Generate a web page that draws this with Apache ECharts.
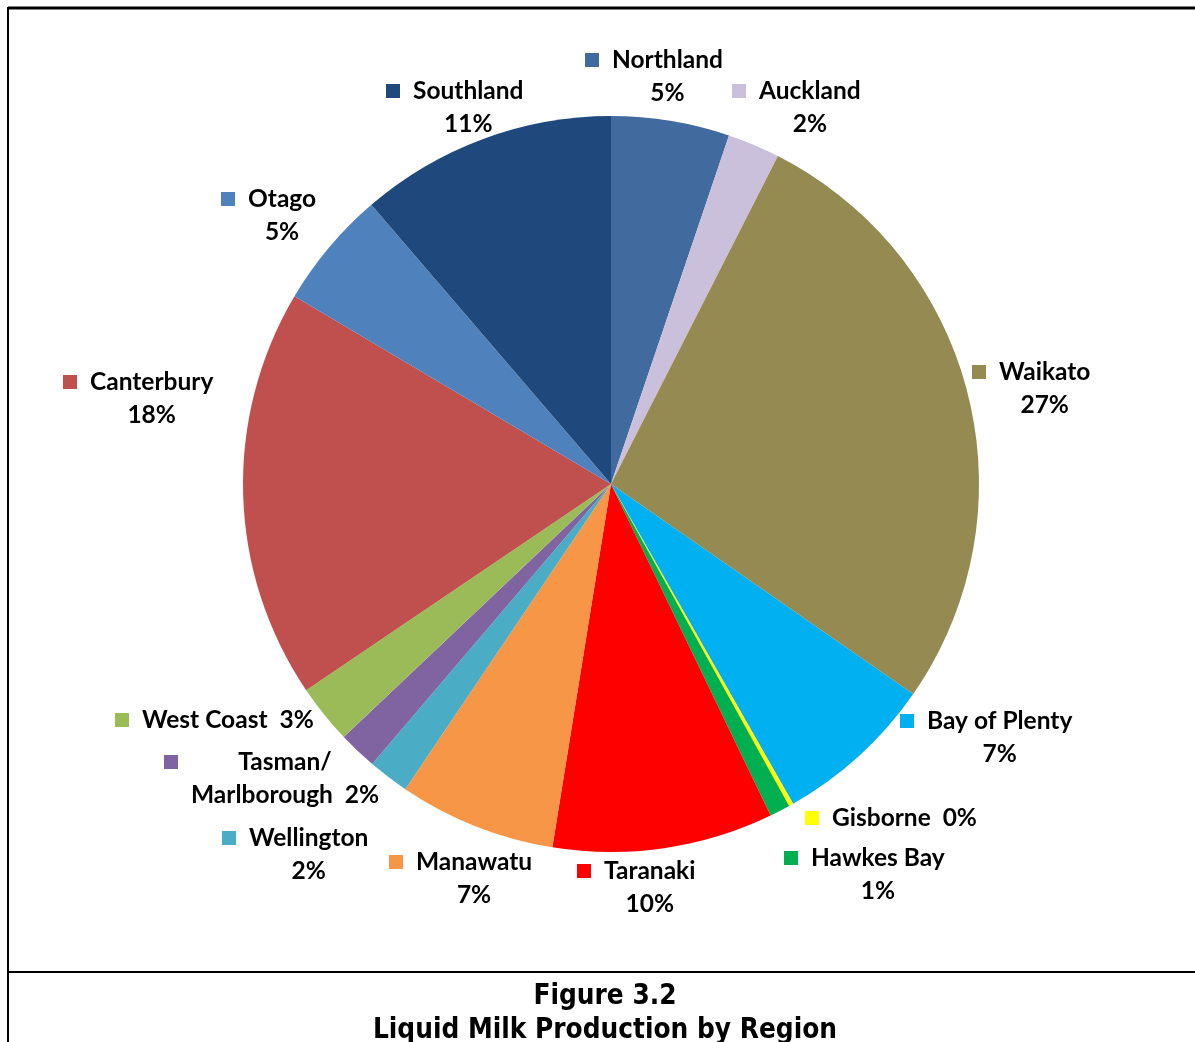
<!DOCTYPE html>
<html>
<head>
<meta charset="utf-8">
<script src="https://cdn.jsdelivr.net/npm/echarts@6/dist/echarts.min.js"></script>
<style>
html, body { margin: 0; padding: 0; background: #fff; }
#chart { width: 1195px; height: 1042px; }
</style>
</head>
<body>
<div id="chart"></div>
<script>
// regions clockwise from 12 o'clock
const regions = ['Northland', 'Auckland', 'Waikato', 'Bay of Plenty', 'Gisborne', 'Hawkes Bay', 'Taranaki',
    'Manawatu', 'Wellington', 'Tasman/Marlborough', 'West Coast', 'Canterbury', 'Otago', 'Southland'];
const shares = [5.2, 2.3, 27.2, 7.1, 0.2, 0.9, 9.7, 6.9, 1.8, 1.7, 2.6, 18.0, 5.2, 11.3];
const colors = ['#416A9E', '#CBC0DC', '#958B52', '#00B0F0', '#FFFF00', '#00B050', '#FF0000',
    '#F79646', '#4BACC6', '#8064A2', '#9BBB59', '#C0504D', '#4F81BD', '#1F497D'];

// where each label sits: left edge of the legend key, middle of the first line
const labelPos = [[585, 60], [732, 91], [972, 372], [900, 721], [805, 818], [784, 858], [577, 871],
    [389, 862], [222, 838], [164, 762], [115, 720], [63, 382], [221, 199], [386, 91]];
const oneLine = ['Gisborne', 'West Coast'];

const LH = 33;
const FONT = 'Lato, "Open Sans", sans-serif';

let rich = {
    g: { width: 13, align: 'left', lineHeight: LH },
    s: { width: 27, align: 'left', lineHeight: LH },
    n: { fontFamily: FONT, fontWeight: 'bold', fontSize: 24.5, color: '#000', lineHeight: LH, align: 'center' },
    p: { fontFamily: FONT, fontWeight: 'bold', fontSize: 24.5, color: '#000', lineHeight: LH, align: 'center' }
};
colors.forEach((c, i) => {
    rich['m' + i] = { width: 14, height: 14, backgroundColor: c, align: 'left', lineHeight: LH };
});

let myChart = echarts.init(document.getElementById('chart'));

let option = {
    animation: false,
    title: {
        text: 'Figure 3.2\nLiquid Milk Production by Region',
        left: 600,
        top: 975,
        textAlign: 'center',
        textStyle: {
            fontFamily: '"DejaVu Sans Condensed", "DejaVu Sans", sans-serif',
            fontWeight: 'bold',
            fontSize: 27.7,
            lineHeight: 34,
            color: '#000'
        }
    },
    graphic: [
        { type: 'line', shape: { x1: 8, y1: 8, x2: 1195, y2: 8 }, style: { stroke: '#000', lineWidth: 3 } },
        { type: 'line', shape: { x1: 8, y1: 7, x2: 8, y2: 1042 }, style: { stroke: '#000', lineWidth: 2 } },
        { type: 'line', shape: { x1: 8, y1: 972, x2: 1195, y2: 972 }, style: { stroke: '#000', lineWidth: 2 } }
    ],
    series: [
        {
            type: 'pie',
            center: [611, 484],
            radius: [0, 368],
            startAngle: 90,
            clockwise: true,
            avoidLabelOverlap: false,
            itemStyle: { borderWidth: 0 },
            labelLine: { show: false },
            label: {
                show: true,
                position: 'outside',
                rich: rich,
                formatter: function (p) {
                    let pct = Math.round(p.percent) + '%';
                    let key = '{m' + p.dataIndex + '|}{g|}';
                    if (p.name === 'Tasman/Marlborough') {
                        return key + '{n|Tasman/}\n{s|}{n|Marlborough  ' + pct + '}';
                    }
                    if (oneLine.indexOf(p.name) >= 0) {
                        return key + '{n|' + p.name + '  ' + pct + '}';
                    }
                    return key + '{n|' + p.name + '}\n{s|}{p|' + pct + '}';
                }
            },
            labelLayout: function (params) {
                let pos = labelPos[params.dataIndex];
                return { x: pos[0], y: pos[1] - LH / 2, align: 'left', verticalAlign: 'top' };
            },
            data: regions.map((r, i) => ({ name: r, value: shares[i], itemStyle: { color: colors[i] } }))
        }
    ]
};

myChart.setOption(option);
</script>
</body>
</html>
